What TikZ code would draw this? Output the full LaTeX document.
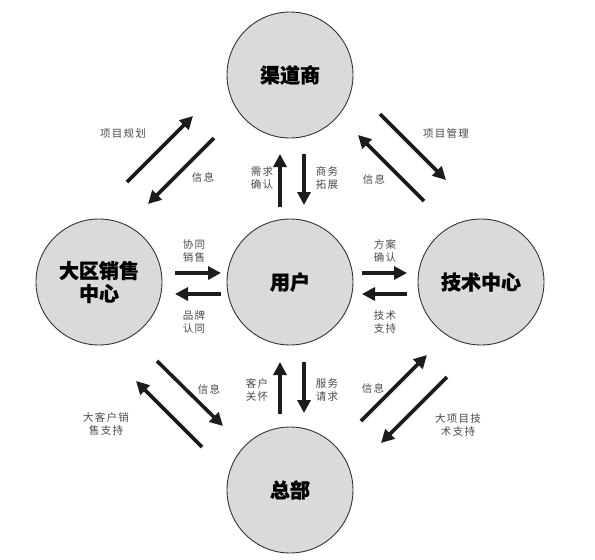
\documentclass[tikz,border=0pt]{standalone}
\usepackage{fontspec}
\newfontfamily\cjk[BoldFeatures={FakeBold=0.8}]{Noto Sans CJK SC}
\newfontfamily\cjklab[LetterSpace=12]{Noto Sans CJK SC}
\usetikzlibrary{arrows.meta}
\definecolor{circfill}{HTML}{DCDAD8}
\definecolor{labgray}{HTML}{4A4A4A}
\definecolor{arrowblk}{HTML}{1C1C1C}
\begin{document}
\begin{tikzpicture}[x=1pt,y=-1pt,
  hub/.style={circle,draw=black!80,line width=0.9pt,fill=circfill,minimum size=126pt,inner sep=0pt,align=center,font=\cjk\bfseries\fontsize{20}{23}\selectfont},
  lab/.style={align=center,text=labgray,font=\cjklab\fontsize{10.5}{12.5}\selectfont,inner sep=0pt},
  flow/.style={draw=arrowblk,line width=3.6pt,-{Triangle[length=13pt,width=13pt]}}]
\useasboundingbox[fill=white] (0,0) rectangle (595,560);

% hubs
\node[hub] (qds) at (290,75) {渠道商};
\node[hub] (user) at (290,282) {用户};
\node[hub] (dq) at (99,282) {大区销售\\中心};
\node[hub] (js) at (481,282) {技术中心};
\node[hub] (zb) at (290,490) {总部};

% arrow end points
\coordinate (a1s) at (280,207); \coordinate (a1e) at (280,154);
\coordinate (a2s) at (304,154); \coordinate (a2e) at (304,205);
\coordinate (a3s) at (280,414); \coordinate (a3e) at (280,362);
\coordinate (a4s) at (304,362); \coordinate (a4e) at (304,413);
\coordinate (a5s) at (175,273); \coordinate (a5e) at (221,273);
\coordinate (a6s) at (221,294); \coordinate (a6e) at (175,294);
\coordinate (a7s) at (362,273); \coordinate (a7e) at (407,273);
\coordinate (a8s) at (407,294); \coordinate (a8e) at (362,294);
\coordinate (b1s) at (127,182); \coordinate (b1e) at (193,116);
\coordinate (b2s) at (214,138); \coordinate (b2e) at (148,204);
\coordinate (b3s) at (380,114); \coordinate (b3e) at (446,180);
\coordinate (b4s) at (424,201); \coordinate (b4e) at (358,135);
\coordinate (b5s) at (157,361); \coordinate (b5e) at (223,426);
\coordinate (b6s) at (202,447); \coordinate (b6e) at (136,381);
\coordinate (b7s) at (361,421); \coordinate (b7e) at (427,355);
\coordinate (b8s) at (447,377); \coordinate (b8e) at (381,443);

\draw[flow] (a1s) -- (a1e);
\draw[flow] (a2s) -- (a2e);
\draw[flow] (a3s) -- (a3e);
\draw[flow] (a4s) -- (a4e);
\draw[flow] (a5s) -- (a5e);
\draw[flow] (a6s) -- (a6e);
\draw[flow] (a7s) -- (a7e);
\draw[flow] (a8s) -- (a8e);
\draw[flow] (b1s) -- (b1e);
\draw[flow] (b2s) -- (b2e);
\draw[flow] (b3s) -- (b3e);
\draw[flow] (b4s) -- (b4e);
\draw[flow] (b5s) -- (b5e);
\draw[flow] (b6s) -- (b6e);
\draw[flow] (b7s) -- (b7e);
\draw[flow] (b8s) -- (b8e);

% labels
\node[lab] (l1) at (262,178) {需求\\确认};
\node[lab] (l2) at (327,178) {商务\\拓展};
\node[lab] (l3) at (257,390) {客户\\关怀};
\node[lab] (l4) at (327,390) {服务\\请求};
\node[lab] (l5) at (194,251) {协同\\销售};
\node[lab] (l6) at (194,322) {品牌\\认同};
\node[lab] (l7) at (385,251) {方案\\确认};
\node[lab] (l8) at (385,322) {技术\\支持};
\node[lab] (l9) at (123,134) {项目规划};
\node[lab] (l10) at (203,177) {信息};
\node[lab] (l11) at (446,133) {项目管理};
\node[lab] (l12) at (374,179) {信息};
\node[lab] (l13) at (209,389) {信息};
\node[lab] (l14) at (106,424) {大客户销\\售支持};
\node[lab] (l15) at (373,388) {信息};
\node[lab] (l16) at (458,425) {大项目技\\术支持};
\end{tikzpicture}
\end{document}
